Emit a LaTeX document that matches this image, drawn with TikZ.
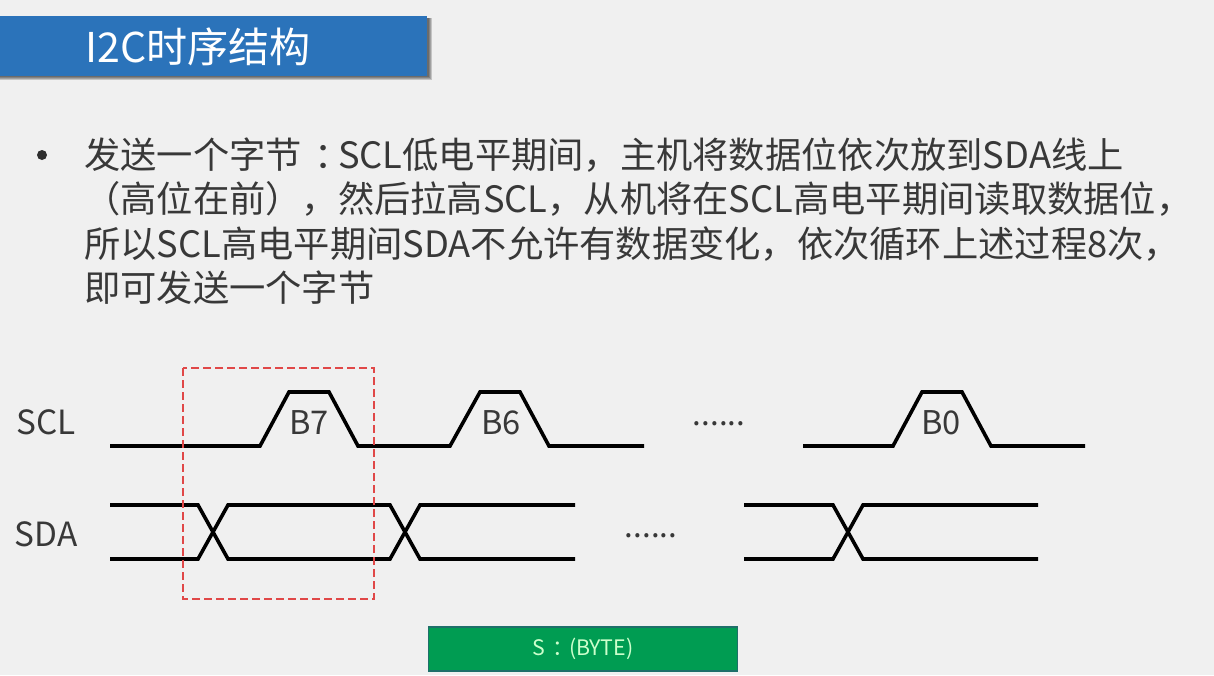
\documentclass[tikz,border=0pt]{standalone}
\usepackage{fontspec}
\setmainfont{Noto Sans CJK SC}
\definecolor{bgc}{HTML}{F0F0F0}
\definecolor{bluec}{HTML}{2B73BA}
\definecolor{greenc}{HTML}{009C52}
\definecolor{edgec}{HTML}{1F6F6A}
\definecolor{redc}{HTML}{E04848}
\newcommand{\cl}{\hspace{0.36em}：\hspace{-0.36em}}
\tikzset{
  wave/.style={draw=black,line width=2.7pt,line join=miter},
  body/.style={anchor=base west,inner sep=0pt,font=\fontsize{27.2pt}{30pt}\selectfont,text=black!78},
  sig/.style={anchor=center,inner sep=0pt,font=\fontsize{25pt}{28pt}\selectfont,text=black!78},
  bit/.style={anchor=center,inner sep=0pt,font=\fontsize{24.5pt}{26pt}\selectfont,text=black!78},
  dots/.style={anchor=base,inner sep=0pt,font=\fontsize{23.5pt}{26pt}\selectfont,text=black!78},
  shade1/.style={fill=black,opacity=0.18},
}
\begin{document}
\begin{tikzpicture}[x=0.75pt,y=-0.75pt]
\useasboundingbox (0,0) rectangle (1214,675);
\fill[bgc] (0,0) rectangle (1214,675);
% title
\fill[shade1] (0,18) rectangle (432,80);
\fill[shade1] (0,18) rectangle (431,79);
\fill[shade1] (0,18) rectangle (430,78);
\fill[shade1] (0,18) rectangle (429,77);
\fill[bluec] (0,16) rectangle (427,76);
\node[anchor=base west,inner sep=0pt,text=white,font=\fontsize{30.8pt}{34pt}\selectfont] (title) at (85,62) {I2C时序结构};
% bullet
\node[circle,fill=black!82,inner sep=0pt,minimum size=7.5pt] (bul) at (42,155) {};
\node[body] (l1) at (84,168.5) {发送一个字节\cl SCL低电平期间，主机将数据位依次放到SDA线上};
\node[body] (l2) at (84,212.5) {（高位在前），然后拉高SCL，从机将在SCL高电平期间读取数据位，};
\node[body] (l3) at (84,257) {所以SCL高电平期间SDA不允许有数据变化，依次循环上述过程8次，};
\node[body] (l4) at (84,301) {即可发送一个字节};
% labels
\node[sig] (scl) at (46,422) {SCL};
\node[sig] (sda) at (46,534) {SDA};
\node[bit] (b7) at (309,423) {B7};
\node[bit] (b6) at (501,423) {B6};
\node[bit] (b0) at (941,423) {B0};
\node[dots] (d1) at (719,425) {......};
\node[dots] (d2) at (651,537) {......};
% SCL
\draw[wave] (110,446) -- (260,446) -- (289,392) -- (329,392) -- (358,446) -- (450,446) -- (480,392) -- (520,392) -- (549,446) -- (644,446);
\draw[wave] (803,446) -- (893,446) -- (922,392) -- (962,392) -- (991,446) -- (1085,446);
% SDA
\draw[wave] (110,505) -- (198,505) -- (228,559) -- (390,559) -- (420,505) -- (575,505);
\draw[wave] (110,559) -- (198,559) -- (228,505) -- (390,505) -- (420,559) -- (575,559);
\draw[wave] (744,505) -- (833,505) -- (863,559) -- (1038,559);
\draw[wave] (744,559) -- (833,559) -- (863,505) -- (1038,505);
% red box
\draw[draw=redc,line width=1pt,dash pattern=on 6pt off 3pt] (183,368) rectangle (374,599);
% green box
\node[draw=edgec,line width=1pt,fill=greenc,minimum width=232pt,minimum height=33pt,inner sep=0pt,text=white!80!green,font=\fontsize{16pt}{20pt}\selectfont] (byte) at (583,649) {S\cl\hspace{0.12em}(BYTE)};
\end{tikzpicture}
\end{document}
